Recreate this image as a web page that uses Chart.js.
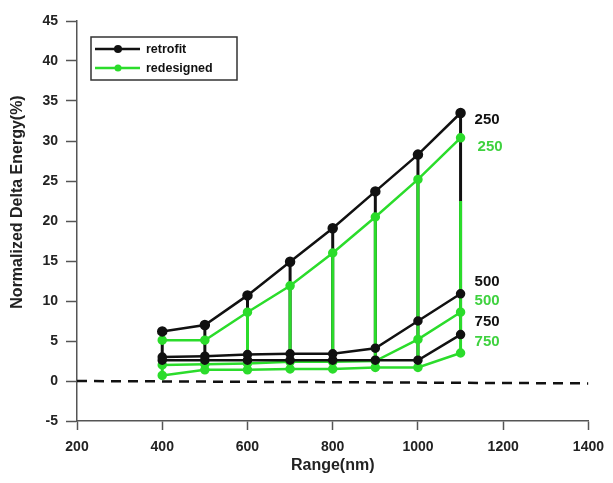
<!DOCTYPE html>
<html>
<head>
<meta charset="utf-8">
<script src="https://cdn.jsdelivr.net/npm/chart.js@4.4.1/dist/chart.umd.min.js"></script>
<style>
  html, body { margin: 0; padding: 0; background: #fff; }
  #wrap { width: 613px; height: 483px; position: relative; }
</style>
</head>
<body>
<div id="wrap"><canvas id="energyChart" width="613" height="483"></canvas></div>
<script>
// ranges (nm)
var ranges = [400, 500, 600, 700, 800, 900, 1000, 1100];

// retrofit (black)
var retrofit250 = [6.2, 7.0, 10.7, 14.9, 19.1, 23.7, 28.3, 33.5];
var retrofit500 = [3.0, 3.1, 3.3, 3.4, 3.4, 4.1, 7.5, 10.9];
var retrofit750 = [2.6, 2.6, 2.6, 2.6, 2.6, 2.6, 2.6, 5.8];

// redesigned (green)
var redesigned250 = [5.1, 5.1, 8.6, 11.9, 16.0, 20.5, 25.2, 30.4];
var redesigned500 = [2.0, 2.1, 2.2, 2.4, 2.4, 2.5, 5.2, 8.6];
var redesigned750 = [0.7, 1.4, 1.4, 1.5, 1.5, 1.7, 1.7, 3.5];

// top of the green drop lines (black shows above them)
var greenDropTop = [2.6, 2.6, 8.6, 11.9, 16.0, 20.5, 25.2, 22.5];

// dashed zero reference
var zeroX = [200, 1400];
var zeroY = [0, -0.3];

var xTicks = [200, 400, 600, 800, 1000, 1200, 1400];
var yTicks = [-5, 0, 5, 10, 15, 20, 25, 30, 35, 40, 45];

var BLACK = "#111111";
var GREEN = "#2bdc2b";
var FONT = "'Liberation Sans', Arial, sans-serif";

function toPoints(xs, ys) {
  return xs.map(function (x, i) {
    return { x: x, y: ys[i] };
  });
}

// vertical drop lines, separated by null gaps
function dropLines(xs, tops, lows) {
  var pts = [];
  for (var i = 0; i < xs.length; i++) {
    pts.push({ x: xs[i], y: tops[i] });
    pts.push({ x: xs[i], y: lows[i] });
    pts.push({ x: xs[i], y: null });
  }
  return pts;
}

function seriesLine(data, color, radius, order) {
  return {
    data: data,
    borderColor: color,
    backgroundColor: color,
    pointBackgroundColor: color,
    pointBorderColor: color,
    borderWidth: 2.5,
    pointRadius: radius,
    pointHoverRadius: radius,
    tension: 0,
    order: order,
  };
}

var datasets = [
  seriesLine(toPoints(ranges, retrofit250), BLACK, 4, 1),
  seriesLine(toPoints(ranges, retrofit500), BLACK, 3.5, 1),
  seriesLine(toPoints(ranges, retrofit750), BLACK, 3.5, 1),
  seriesLine(toPoints(ranges, redesigned250), GREEN, 3.5, 2),
  seriesLine(toPoints(ranges, redesigned500), GREEN, 3.5, 2),
  seriesLine(toPoints(ranges, redesigned750), GREEN, 3.5, 2),
  {
    data: dropLines(ranges, greenDropTop, redesigned750),
    borderColor: GREEN,
    borderWidth: 3,
    pointRadius: 0,
    spanGaps: false,
    order: 3,
  },
  {
    data: dropLines(ranges, retrofit250, retrofit750),
    borderColor: BLACK,
    borderWidth: 3,
    pointRadius: 0,
    spanGaps: false,
    order: 4,
  },
  {
    data: toPoints(zeroX, zeroY),
    borderColor: BLACK,
    borderWidth: 2.5,
    borderDash: [10, 7],
    pointRadius: 0,
    order: 5,
  },
];

// legend box, curve labels and y title drawn by hand
var annotatePlugin = {
  id: "annotate",
  afterDraw: function (chart) {
    var ctx = chart.ctx;
    ctx.save();

    // legend
    ctx.strokeStyle = "#333";
    ctx.lineWidth = 1.5;
    ctx.strokeRect(91, 37, 146, 43);
    var items = [
      { text: "retrofit", color: BLACK, y: 49, r: 4 },
      { text: "redesigned", color: GREEN, y: 68, r: 3.5 },
    ];
    items.forEach(function (it) {
      ctx.strokeStyle = it.color;
      ctx.fillStyle = it.color;
      ctx.lineWidth = 2.5;
      ctx.beginPath();
      ctx.moveTo(95, it.y);
      ctx.lineTo(140, it.y);
      ctx.stroke();
      ctx.beginPath();
      ctx.arc(118, it.y, it.r, 0, Math.PI * 2);
      ctx.fill();
      ctx.fillStyle = "#111";
      ctx.font = "bold 12.5px " + FONT;
      ctx.textBaseline = "middle";
      ctx.textAlign = "left";
      ctx.fillText(it.text, 146, it.y + 1);
    });

    // curve labels
    var xLab = chart.scales.x.getPixelForValue(1100) + 14;
    var labels = [
      { t: "250", c: BLACK, y: 120, dx: 0 },
      { t: "250", c: "#3fd23f", y: 147, dx: 3 },
      { t: "500", c: BLACK, y: 282, dx: 0 },
      { t: "500", c: "#3fd23f", y: 301, dx: 0 },
      { t: "750", c: BLACK, y: 322, dx: 0 },
      { t: "750", c: "#3fd23f", y: 342, dx: 0 },
    ];
    ctx.font = "bold 15px " + FONT;
    ctx.textBaseline = "middle";
    ctx.textAlign = "left";
    labels.forEach(function (l) {
      ctx.fillStyle = l.c;
      ctx.fillText(l.t, xLab + l.dx, l.y);
    });

    // y axis title
    ctx.translate(18, 202);
    ctx.rotate(-Math.PI / 2);
    ctx.fillStyle = "#222";
    ctx.font = "bold 16px " + FONT;
    ctx.textAlign = "center";
    ctx.textBaseline = "middle";
    ctx.fillText("Normalized Delta Energy(%)", 0, 0);

    ctx.restore();
  },
};

new Chart(document.getElementById("energyChart"), {
  type: "line",
  data: { datasets: datasets },
  options: {
    responsive: false,
    animation: false,
    events: [],
    layout: { padding: { top: 21, right: 21, left: 0, bottom: 0 } },
    plugins: {
      legend: { display: false },
      tooltip: { enabled: false },
    },
    scales: {
      x: {
        type: "linear",
        min: 200,
        max: 1400,
        afterBuildTicks: function (scale) {
          scale.ticks = xTicks.map(function (v) {
            return { value: v };
          });
        },
        afterFit: function (scale) {
          scale.height = 62;
        },
        grid: {
          drawOnChartArea: false,
          drawTicks: true,
          tickLength: 9,
          tickWidth: 1.5,
          tickColor: "#555",
        },
        border: { color: "#555", width: 1.5 },
        ticks: {
          color: "#222",
          font: { family: FONT, size: 14, weight: "bold" },
          padding: 9,
          maxRotation: 0,
          callback: function (value) {
            return String(value);
          },
        },
        title: {
          display: true,
          text: "Range(nm)",
          color: "#222",
          font: { family: FONT, size: 16, weight: "bold" },
          padding: { top: 0, bottom: 8 },
        },
      },
      y: {
        type: "linear",
        min: -5,
        max: 45,
        afterBuildTicks: function (scale) {
          scale.ticks = yTicks.map(function (v) {
            return { value: v };
          });
        },
        afterFit: function (scale) {
          scale.width = 77;
        },
        grid: {
          drawOnChartArea: false,
          drawTicks: true,
          tickLength: 11,
          tickWidth: 1.5,
          tickColor: "#555",
        },
        border: { color: "#555", width: 1.5 },
        ticks: {
          color: "#222",
          font: { family: FONT, size: 14, weight: "bold" },
          padding: 8,
        },
      },
    },
  },
  plugins: [annotatePlugin],
});
</script>
</body>
</html>
